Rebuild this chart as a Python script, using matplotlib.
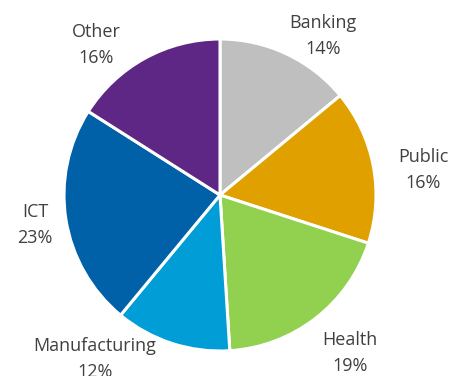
import matplotlib
matplotlib.use("Agg")
import matplotlib.pyplot as plt

sectors = ["Banking", "Public", "Health", "Manufacturing", "ICT", "Other"]
shares = [14, 16, 19, 12, 23, 16]
colors = ["#BFBFBF", "#E0A100", "#92D050", "#009DD6", "#0060A8", "#5E2785"]

W, H = 455, 376
fig = plt.figure(figsize=(W / 100, H / 100), dpi=100)
ax = fig.add_axes([0, 0, 1, 1])

cx, cy, r = 220, H - 195, 156
ax.pie(shares, colors=colors, startangle=90, counterclock=False,
       center=(cx, cy), radius=r, frame=True,
       wedgeprops=dict(edgecolor="white", linewidth=2.2))
ax.set_xlim(0, W)
ax.set_ylim(0, H)
ax.set_aspect("equal")
ax.axis("off")

# label anchor points (pixel coords from top-left)
label_pos = [(323, 36), (423, 170), (350, 353), (95, 359), (35, 225), (96, 45)]
for name, val, (px, py) in zip(sectors, shares, label_pos):
    ax.text(px, H - py, f"{name}\n{val}%", ha="center", va="center",
            fontsize=13, color="#404040", family="Open Sans",
            linespacing=1.6)

fig.savefig("out.png", dpi=100)
